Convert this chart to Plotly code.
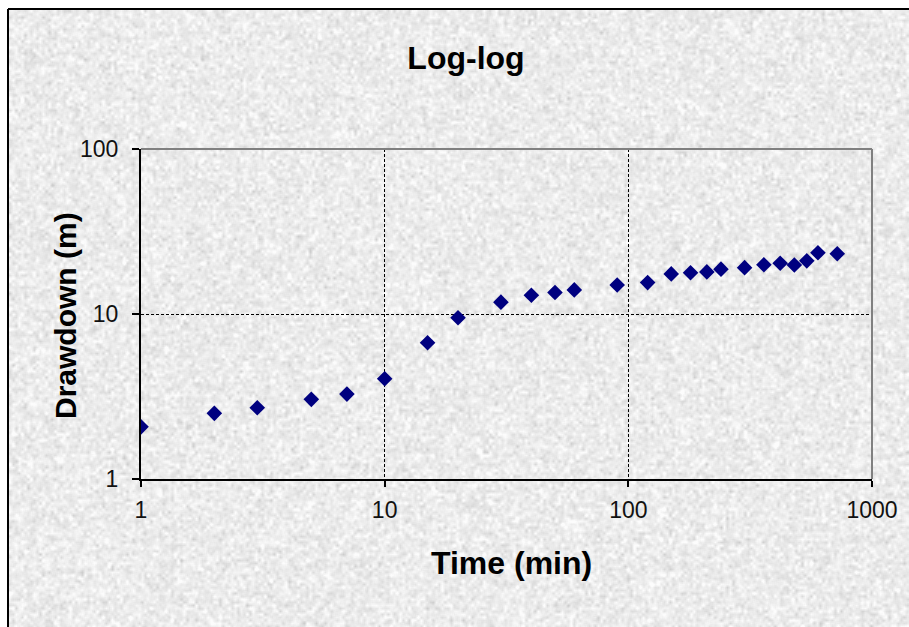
import base64
import struct
import zlib

import numpy as np
import plotly.graph_objects as go

# Pumping test record: elapsed time vs drawdown
time_min = [1, 2, 3, 5, 7, 10, 15, 20, 30, 40, 50, 60, 90, 120, 150, 180,
            210, 240, 300, 360, 420, 480, 540, 600, 720]
drawdown_m = [2.07, 2.50, 2.70, 3.04, 3.27, 4.05, 6.70, 9.5, 11.8, 13.0, 13.5,
              14.0, 15.0, 15.5, 17.5, 17.8, 18.0, 18.7, 19.1, 19.9, 20.3, 19.8,
              21.0, 23.5, 23.2]

x_ticks = [1, 10, 100, 1000]
x_tick_labels = ["1", "10", "100", "1000"]
y_ticks = [1, 10, 100]
y_tick_labels = ["1", "10", "100"]

W, H = 909, 627
PL, PR, PT, PB = 141, 872, 149, 479  # plot area in pixels
FONT = "Liberation Sans, Arial, sans-serif"


def px_x(px):
    return (px - PL) / (PR - PL)


def px_y(py):
    return (PB - py) / (PB - PT)


def newsprint_png(w, h):
    """Mottled light-grey paper texture encoded as a greyscale PNG."""
    rng = np.random.default_rng(7)
    coarse = rng.normal(0, 1, (h // 3 + 2, w // 3 + 2))
    img = np.kron(coarse, np.ones((3, 3)))[:h, :w]
    fine = rng.normal(0, 1, (h, w))
    img = 0.7 * img + 0.5 * fine
    # light box blur
    k = 3
    pad = np.pad(img, k, mode="edge")
    acc = np.zeros_like(img)
    for dy in range(-1, 2):
        for dx in range(-1, 2):
            acc += pad[k + dy:k + dy + h, k + dx:k + dx + w]
    img = acc / 9.0
    img = img / img.std()
    vals = np.clip(236 + 7 * img, 205, 252).astype(np.uint8)
    raw = b"".join(b"\x00" + vals[r].tobytes() for r in range(h))

    def chunk(tag, data):
        c = struct.pack(">I", len(data)) + tag + data
        return c + struct.pack(">I", zlib.crc32(tag + data) & 0xFFFFFFFF)

    png = b"\x89PNG\r\n\x1a\n"
    png += chunk(b"IHDR", struct.pack(">IIBBBBB", w, h, 8, 0, 0, 0, 0))
    png += chunk(b"IDAT", zlib.compress(raw, 9))
    png += chunk(b"IEND", b"")
    return "data:image/png;base64," + base64.b64encode(png).decode()


fig = go.Figure()

fig.add_trace(go.Scatter(
    x=time_min,
    y=drawdown_m,
    mode="markers",
    marker=dict(symbol="diamond", size=12, color="#000080",
                line=dict(width=0)),
    showlegend=False,
))

grid_style = dict(showgrid=True, gridcolor="#000000", gridwidth=1,
                  griddash="3px,2px")

fig.update_xaxes(
    type="log", range=[0, 3],
    tickvals=x_ticks, ticktext=x_tick_labels,
    ticks="outside", ticklen=6, tickwidth=1.5, tickcolor="#000000",
    showline=True, linecolor="#000000", linewidth=2,
    ticklabelstandoff=3,
    tickfont=dict(family=FONT, size=23, color="#111111"),
    zeroline=False, **grid_style,
)
fig.update_yaxes(
    type="log", range=[0, 2],
    tickvals=y_ticks, ticktext=y_tick_labels,
    ticks="outside", ticklen=7, tickwidth=1.5, tickcolor="#000000",
    showline=True, linecolor="#000000", linewidth=2,
    ticklabelstandoff=9,
    tickfont=dict(family=FONT, size=23, color="#111111"),
    zeroline=False, **grid_style,
)

shapes = [
    # grey frame on the top and right of the plot area
    dict(type="line", xref="paper", yref="paper", x0=0, x1=1, y0=1, y1=1,
         line=dict(color="#808080", width=2), layer="above"),
    dict(type="line", xref="paper", yref="paper", x0=1, x1=1, y0=0, y1=1,
         line=dict(color="#808080", width=2), layer="above"),
    # chart-area frame
    dict(type="line", xref="paper", yref="paper",
         x0=px_x(8), x1=px_x(W + 5), y0=px_y(9), y1=px_y(9),
         line=dict(color="#000000", width=2)),
    dict(type="line", xref="paper", yref="paper",
         x0=px_x(8), x1=px_x(8), y0=px_y(9), y1=px_y(H + 5),
         line=dict(color="#000000", width=2)),
]

annotations = [
    dict(text="<b>Time (min)</b>", xref="paper", yref="paper",
         x=px_x(511), y=px_y(563), xanchor="center", yanchor="middle",
         showarrow=False, font=dict(family=FONT, size=32, color="#000000")),
    dict(text="<b>Drawdown (m)</b>", xref="paper", yref="paper",
         x=px_x(65), y=px_y(316), xanchor="center", yanchor="middle",
         textangle=-90, showarrow=False,
         font=dict(family=FONT, size=30, color="#000000")),
]

fig.update_layout(
    width=W, height=H,
    margin=dict(l=PL, r=W - PR, t=PT, b=H - PB, pad=0),
    paper_bgcolor="#ffffff",
    plot_bgcolor="#ffffff",
    title=dict(text="<b>Log-log</b>", xref="container", yref="container",
               x=466 / W, y=1 - 58 / H, xanchor="center", yanchor="middle",
               font=dict(family=FONT, size=32, color="#000000")),
    shapes=shapes,
    annotations=annotations,
    images=[dict(source=newsprint_png(W - 9, H - 10), xref="paper",
                 yref="paper", x=px_x(9), y=px_y(10),
                 sizex=(W - 9) / (PR - PL), sizey=(H - 10) / (PB - PT),
                 xanchor="left", yanchor="top", sizing="stretch",
                 layer="below")],
)

fig.write_html("out.html")
